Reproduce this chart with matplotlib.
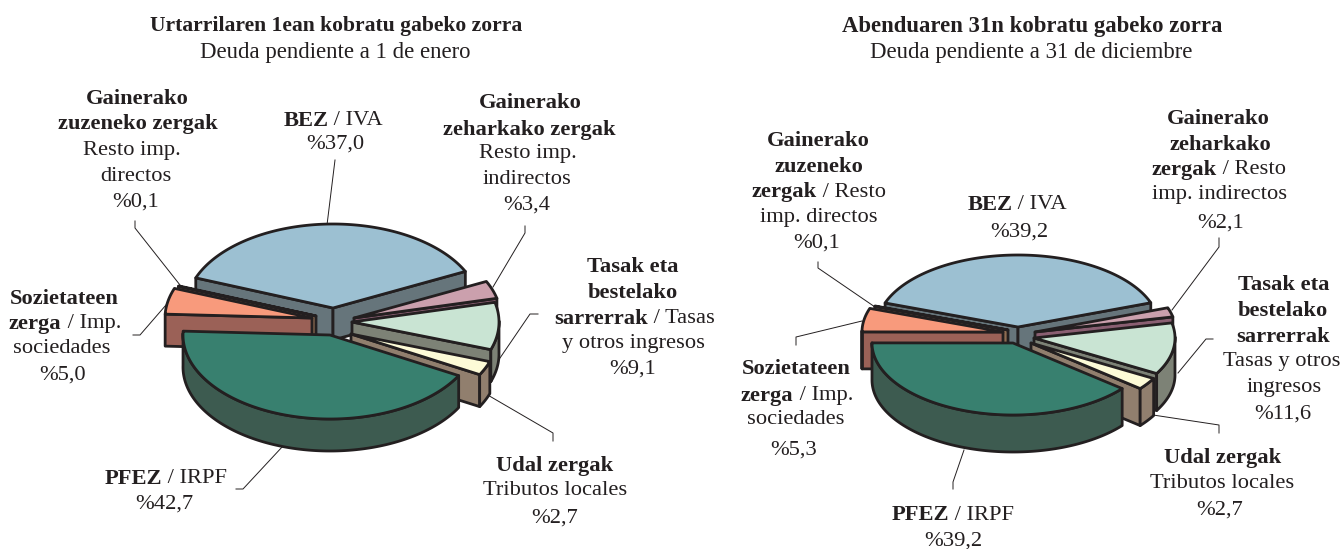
import numpy as np
import matplotlib
matplotlib.use('Agg')
import matplotlib.pyplot as plt
from matplotlib.patches import Polygon

plt.rcParams['font.family'] = ['Liberation Serif', 'DejaVu Serif']

# order: BEZ, zeharkako, tasak, udal, PFEZ, sozietateen, zuzeneko
values_left = [37.0, 3.4, 9.1, 2.7, 42.7, 5.0, 0.1]
values_right = [39.2, 2.1, 11.6, 2.7, 39.2, 5.3, 0.1]

top_colors = ["#9cc0d2", "#cba0ad", "#c9e4d3", "#fdfbd7", "#38806f", "#f89a7c", "#b98d6e"]
wall_colors = ["#66757b", "#8a5f72", "#7d8276", "#917f6e", "#3d5b50", "#9b6157", "#8f6d52"]
EDGE = "#231f20"

# pie layout in pixels: centre, radii, depth, start angle, offset of every slice
left_pie = dict(cx=331, cy=321, rx=147, ry=84, depth=32, start=159,
                offsets=[(2, -13), (23, -3), (21, 1), (20, 13), (-1, 14), (-19, -3), (-15, -5)])
right_pie = dict(cx=1016, cy=335, rx=141, ry=72, depth=37, start=160.5,
                 offsets=[(2, -8), (19, -3), (18, 3), (15, 8), (-3, 8), (-13, -3), (-8, -5)])

titles = [
    (336, 24, "**Urtarrilaren 1ean kobratu gabeko zorra**", 15.6),
    (335, 50, "Deuda pendiente a 1 de enero", 16.4),
    (1032, 24, "**Abenduaren 31n kobratu gabeko zorra**", 16.4),
    (1031, 50, "Deuda pendiente a 31 de diciembre", 16.4),
]

# (centre x, y, text)
labels_left = [
    (137, 97, "**Gainerako**"), (138, 122, "**zuzeneko zergak**"), (132, 148, "Resto imp."),
    (136, 174, "directos"), (136, 200, "%0,1"),
    (333, 118, "**BEZ** / IVA"), (335, 142, "%37,0"),
    (530, 101, "**Gainerako**"), (529, 127, "**zeharkako zergak**"), (528, 151, "Resto imp."),
    (527, 177, "indirectos"), (527, 203, "%3,4"),
    (633, 265, "**Tasak eta**"), (633, 290, "**bestelako**"), (635, 316, "**sarrerrak** / Tasas"),
    (634, 341, "y otros ingresos"), (633, 367, "%9,1"),
    (64, 296, "**Sozietateen**"), (65, 321, "**zerga** / Imp."), (62, 346, "sociedades"), (63, 373, "%5,0"),
    (166, 476, "**PFEZ** / IRPF"), (164, 502, "%42,7"),
    (555, 463, "**Udal zergak**"), (555, 488, "Tributos locales"), (555, 516, "%2,7"),
]
labels_right = [
    (818, 139, "**Gainerako**"), (819, 165, "**zuzeneko**"), (819, 190, "**zergak** / Resto"),
    (819, 215, "imp. directos"), (817, 241, "%0,1"),
    (1017, 202, "**BEZ** / IVA"), (1019, 230, "%39,2"),
    (1218, 117, "**Gainerako**"), (1220, 142, "**zeharkako**"), (1219, 167, "**zergak** / Resto"),
    (1220, 192, "imp. indirectos"), (1221, 221, "%2,1"),
    (1284, 283, "**Tasak eta**"), (1283, 308, "**bestelako**"), (1283, 334, "**sarrerrak**"),
    (1282, 359, "Tasas y otros"), (1284, 385, "ingresos"), (1283, 412, "%11,6"),
    (796, 367, "**Sozietateen**"), (797, 393, "**zerga** / Imp."), (796, 417, "sociedades"), (794, 448, "%5,3"),
    (1223, 455, "**Udal zergak**"), (1222, 481, "Tributos locales"), (1220, 508, "%2,7"),
    (953, 513, "**PFEZ** / IRPF"), (953, 539, "%39,2"),
]

leaders_left = [
    [(335, 160), (327, 225)],
    [(135, 221), (135, 228), (180, 285)],
    [(133, 335), (140, 335), (166, 305)],
    [(525, 226), (525, 233), (493, 287)],
    [(538, 314), (530, 314), (500, 358)],
    [(553, 441), (553, 433), (486, 394)],
    [(236, 489), (243, 489), (283, 446)],
]
leaders_right = [
    [(818, 262), (818, 268), (875, 307)],
    [(796, 345), (796, 337), (862, 321)],
    [(1219, 238), (1219, 247), (1172, 310)],
    [(1213, 339), (1206, 339), (1178, 373)],
    [(1219, 433), (1219, 425), (1153, 415)],
    [(953, 489), (953, 482), (964, 450)],
]


def draw_pie(ax, values, pie):
    vals = np.array(values, dtype=float)
    sweeps = vals / vals.sum() * 360
    ends = pie["start"] - np.cumsum(sweeps)
    starts = ends + sweeps
    mids = np.radians((starts + ends) / 2)
    # back slices first, front slices paint over them
    for i in np.argsort(-np.sin(mids)):
        x0 = pie["cx"] + pie["offsets"][i][0]
        y0 = pie["cy"] + pie["offsets"][i][1]
        th = np.radians(np.linspace(starts[i], ends[i], max(int(sweeps[i] * 2), 2)))
        ax_x = x0 + pie["rx"] * np.cos(th)
        ax_y = y0 - pie["ry"] * np.sin(th)
        mx = pie["rx"] * np.cos(mids[i])
        my = -pie["ry"] * np.sin(mids[i])
        d = pie["depth"]
        lw = 2.0
        # cut faces, only when the slice lies above the cut on screen
        for j in (0, -1):
            ex, ey = ax_x[j] - x0, ax_y[j] - y0
            if my - ey / ex * mx < 0:
                ax.add_patch(Polygon([(x0, y0), (ax_x[j], ax_y[j]), (ax_x[j], ax_y[j] + d), (x0, y0 + d)],
                                     fc=wall_colors[i], ec=EDGE, lw=lw, joinstyle="round"))
        # rim, only the part facing the viewer
        front = np.sin(th) <= 0.02
        if front.sum() > 1:
            fx, fy = ax_x[front], ax_y[front]
            rim = list(zip(fx, fy)) + list(zip(fx[::-1], fy[::-1] + d))
            ax.add_patch(Polygon(rim, fc=wall_colors[i], ec=EDGE, lw=lw, joinstyle="round"))
        top = [(x0, y0)] + list(zip(ax_x, ax_y))
        ax.add_patch(Polygon(top, fc=top_colors[i], ec=EDGE, lw=lw, joinstyle="round"))


def rich_line(ax, xc, y, line, size=16.2):
    # line with **bold** runs, centred on xc
    parts = [(p, k % 2 == 1) for k, p in enumerate(line.split("**")) if p]
    renderer = ax.figure.canvas.get_renderer()
    items = []
    for s, bold in parts:
        t = ax.text(0, y, s, fontsize=size, fontweight="bold" if bold else "normal",
                    ha="left", va="center_baseline", color=EDGE)
        items.append((t, t.get_window_extent(renderer).width))
    x = xc - sum(w for _, w in items) / 2
    for t, w in items:
        t.set_x(x)
        x += w


fig = plt.figure(figsize=(13.43, 5.49), dpi=100)
ax = fig.add_axes([0, 0, 1, 1])
ax.set_xlim(0, 1343)
ax.set_ylim(549, 0)
ax.axis("off")

for pts in leaders_left + leaders_right:
    xs, ys = zip(*pts)
    ax.plot(xs, ys, color=EDGE, lw=0.7, zorder=0.5)

draw_pie(ax, values_left, left_pie)
draw_pie(ax, values_right, right_pie)

for xc, y, line in labels_left + labels_right:
    rich_line(ax, xc, y, line)
for xc, y, line, size in titles:
    rich_line(ax, xc, y, line, size)

fig.savefig("out.png", dpi=100)
